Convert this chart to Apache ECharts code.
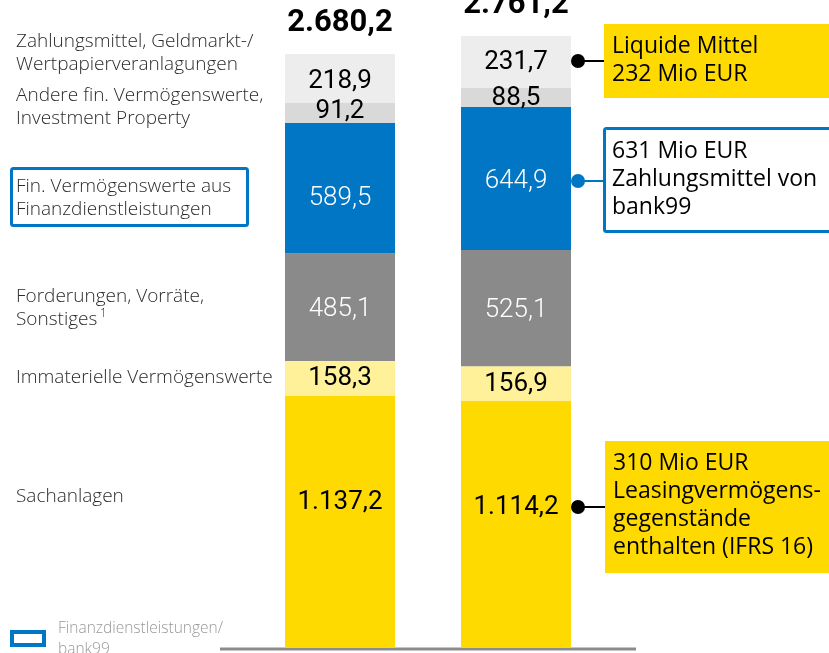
<!DOCTYPE html>
<html><head><meta charset="utf-8">
<script src="https://cdn.jsdelivr.net/npm/echarts@6/dist/echarts.min.js"></script>
<style>html,body{margin:0;padding:0;background:#fff}#c{width:829px;height:653px}</style>
</head><body><div id="c"></div>
<script>
const categories = ['2023', '2024'];
const seriesNames = ['Sachanlagen', 'Immaterielle Vermögenswerte', 'Forderungen, Vorräte, Sonstiges', 'Fin. Vermögenswerte aus Finanzdienstleistungen', 'Andere fin. Vermögenswerte, Investment Property', 'Zahlungsmittel, Geldmarkt-/Wertpapierveranlagungen'];
const sachanlagen = [1137.2, 1114.2];
const immaterielle = [158.3, 156.9];
const forderungen = [485.1, 525.1];
const finVermoegen = [589.5, 644.9];
const andereFin = [91.2, 88.5];
const zahlungsmittel = [218.9, 231.7];
const totals = [2680.2, 2761.2];

function fmt(v) {
  const parts = v.toFixed(1).split('.');
  const intPart = parts[0].replace(/\B(?=(\d{3})+(?!\d))/g, '.');
  return intPart + ',' + parts[1];
}

const FONT = 'Roboto';
const TFONT = '"Open Sans"';
const colors = ['#FFDA00', '#FFF09A', '#8A8A8A', '#0076C4', '#D9D9D9', '#EDEDED'];
const labelColors = ['#000', '#000', '#fff', '#fff', '#000', '#000'];
const labelWeights = [400, 400, 300, 300, 400, 400];
const labelOffsets = [[[0, -19], [0, -17]], [[0, 0], [0, 1]], [[0, 2], [0, 2]], [[0, 10], [0, 3]], [[0, -1], [0, 1]], [[0, 3], [0, 1]]];
const datas = [sachanlagen, immaterielle, forderungen, finVermoegen, andereFin, zahlungsmittel];

const series = datas.map((d, i) => ({
  name: seriesNames[i],
  type: 'bar',
  stack: 'a',
  barWidth: 110,
  itemStyle: { color: colors[i] },
  data: d.map((v, j) => ({
    value: v,
    label: { offset: labelOffsets[i][j] }
  })),
  label: {
    show: true, position: 'inside',
    formatter: p => fmt(p.value),
    color: labelColors[i], fontFamily: FONT, fontSize: 26, fontWeight: labelWeights[i]
  },
  silent: true
}));
series.push({
  type: 'bar', stack: 'a', barWidth: 110,
  data: totals.map(() => 0),
  itemStyle: { color: 'transparent' },
  label: {
    show: true, position: 'top', distance: 15,
    formatter: p => fmt(totals[p.dataIndex]),
    color: '#000', fontFamily: FONT, fontSize: 31, fontWeight: 'bold'
  },
  silent: true
});

const leftTextStyle = { fontFamily: TFONT, fontSize: 19, fontWeight: 300, fill: '#2b2b2b', lineHeight: 23 };
function leftText(x, y, text) {
  return { type: 'text', left: x, top: y, style: Object.assign({ text: text }, leftTextStyle) };
}
const calloutStyle = { fontFamily: TFONT, fontSize: 23, fill: '#000', lineHeight: 28 };

const chart = echarts.init(document.getElementById('c'));
chart.setOption({
  animation: false,
  grid: { left: 252, right: 225, top: 5.3, bottom: 5 },
  xAxis: { type: 'category', data: categories, show: false },
  yAxis: { type: 'value', min: 0, max: 2900, show: false },
  series: series,
  graphic: [
    { type: 'line', shape: { x1: 220, y1: 649, x2: 636, y2: 649 }, style: { stroke: '#8C8C8C', lineWidth: 3 } },
    leftText(16, 30, 'Zahlungsmittel, Geldmarkt-/\nWertpapierveranlagungen'),
    leftText(16, 84, 'Andere fin. Vermögenswerte,\nInvestment Property'),
    { type: 'rect', shape: { x: 11.5, y: 168.5, width: 236, height: 57, r: 2 }, style: { fill: '#fff', stroke: '#0076C4', lineWidth: 3 } },
    leftText(16, 175, 'Fin. Vermögenswerte aus\nFinanzdienstleistungen'),
    leftText(16, 285, 'Forderungen, Vorräte,\nSonstiges'),
    { type: 'text', left: 100, top: 308, style: { text: '1', fontFamily: TFONT, fontSize: 12, fontWeight: 300, fill: '#2b2b2b' } },
    leftText(16, 366, 'Immaterielle Vermögenswerte'),
    leftText(16, 485, 'Sachanlagen'),
    { type: 'rect', shape: { x: 12, y: 632, width: 32, height: 13 }, style: { fill: '#fff', stroke: '#0076C4', lineWidth: 4 } },
    { type: 'text', left: 58, top: 618, style: { text: 'Finanzdienstleistungen/\nbank99', fontFamily: TFONT, fontSize: 15.5, fontWeight: 300, fill: '#999', lineHeight: 21 } },
    // Callout 1
    { type: 'line', shape: { x1: 578, y1: 61, x2: 605, y2: 61 }, style: { stroke: '#000', lineWidth: 2 } },
    { type: 'circle', shape: { cx: 578, cy: 61, r: 7 }, style: { fill: '#000' } },
    { type: 'rect', shape: { x: 604, y: 24, width: 240, height: 74 }, style: { fill: '#FFDA00' } },
    { type: 'text', left: 612, top: 32, style: Object.assign({ text: 'Liquide Mittel\n232 Mio EUR' }, calloutStyle) },
    // Callout 2
    { type: 'line', shape: { x1: 578, y1: 181, x2: 604, y2: 181 }, style: { stroke: '#0076C4', lineWidth: 2 } },
    { type: 'circle', shape: { cx: 578, cy: 181, r: 7 }, style: { fill: '#0076C4' } },
    { type: 'rect', shape: { x: 604.5, y: 128.5, width: 240, height: 103, r: 2 }, style: { fill: '#fff', stroke: '#0076C4', lineWidth: 3 } },
    { type: 'text', left: 612, top: 137, style: Object.assign({ text: '631 Mio EUR\nZahlungsmittel von\nbank99' }, calloutStyle) },
    // Callout 3
    { type: 'line', shape: { x1: 578, y1: 507, x2: 606, y2: 507 }, style: { stroke: '#000', lineWidth: 2 } },
    { type: 'circle', shape: { cx: 578, cy: 507, r: 7 }, style: { fill: '#000' } },
    { type: 'rect', shape: { x: 605, y: 441, width: 240, height: 132 }, style: { fill: '#FFDA00' } },
    { type: 'text', left: 613, top: 449, style: Object.assign({ text: '310 Mio EUR\nLeasingvermögens-\ngegenstände\nenthalten (IFRS 16)' }, calloutStyle) }
  ]
});
</script></body></html>
